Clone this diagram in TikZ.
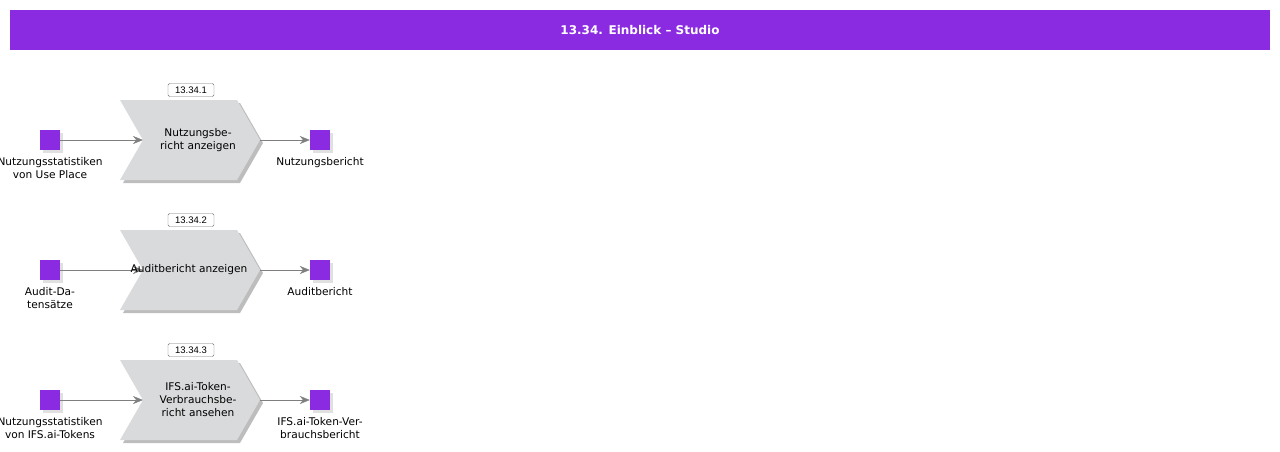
\documentclass[tikz,border=0pt]{standalone}
\usepackage{fontspec}
\setmainfont{DejaVu Sans}
\newfontfamily\tagfont{Liberation Sans}
\usepackage{xcolor}
\usetikzlibrary{positioning}
\usetikzlibrary{shadows}
\usetikzlibrary{arrows.meta}

\definecolor{eventviolet}{HTML}{8A2BE2}
\definecolor{funcgray}{HTML}{D9DADC}
\definecolor{shadegray}{HTML}{BDBDBD}
\definecolor{linegray}{HTML}{7F7F7F}

\begin{document}
\begin{tikzpicture}[x=1pt,y=-1pt,
		every node/.style={inner sep=0pt, font=\fontsize{10.6}{13}\selectfont},
		event/.style={fill=eventviolet, minimum size=20pt,
			drop shadow={shadow xshift=3pt, shadow yshift=-3pt, fill=black!12, opacity=1}},
		evlabel/.style={below=7pt of #1, align=center},
		functext/.style={align=center, text width=100pt},
		chevron/.style={fill=funcgray,
			drop shadow={shadow xshift=3pt, shadow yshift=-3pt, fill=shadegray, opacity=1}},
		tagbox/.style={draw=black!55, rounded corners=1.5pt, fill=white,
			minimum width=46pt, minimum height=13pt, font=\tagfont\fontsize{9.5}{11}\selectfont},
		flow/.style={draw=linegray, -{Stealth[length=10pt,width=8pt]}}]
	\useasboundingbox (0,0) rectangle (1280,451);
	% header
	\node[fill=eventviolet, minimum width=1260pt, minimum height=40pt,
		text=white, font=\bfseries\fontsize{12}{14}\selectfont] (title) at (640,30)
		{13.34. Einblick -- Studio};

	% row 1
	\path[chevron] (120,100) -- (237,100) -- (260,140) -- (237,180) -- (120,180) -- (143,140) -- cycle;
	\coordinate (f1in) at (143,140);
	\coordinate (f1out) at (260,140);
	\node[functext] (f1) at (198,140) {Nutzungsbe-\\richt anzeigen};
	\node[tagbox] (t1) at (191,90) {13.34.1};
	\node[event] (e1) at (50,140) {};
	\node[evlabel=e1] (e1txt) {Nutzungsstatistiken\\von Use Place};
	\node[event] (r1) at (320,140) {};
	\node[evlabel=r1] (r1txt) {Nutzungsbericht};
	\draw[flow] (e1) -- (f1in);
	\draw[flow] (f1out) -- (r1);

	% row 2
	\path[chevron] (120,230) -- (237,230) -- (260,270) -- (237,310) -- (120,310) -- (143,270) -- cycle;
	\coordinate (f2in) at (143,270);
	\coordinate (f2out) at (260,270);
	\node[tagbox] (t2) at (191,220) {13.34.2};
	\node[event] (e2) at (50,270) {};
	\node[evlabel=e2] (e2txt) {Audit-Da-\\tensätze};
	\node[event] (r2) at (320,270) {};
	\node[evlabel=r2] (r2txt) {Auditbericht};
	\draw[flow] (e2) -- (f2in);
	\draw[flow] (f2out) -- (r2);
	\node[functext, text width=140pt] (f2) at (189,270) {Auditbericht anzeigen};

	% row 3
	\path[chevron] (120,360) -- (237,360) -- (260,400) -- (237,440) -- (120,440) -- (143,400) -- cycle;
	\coordinate (f3in) at (143,400);
	\coordinate (f3out) at (260,400);
	\node[functext] (f3) at (198,400) {IFS.ai-Token-\\Verbrauchsbe-\\richt ansehen};
	\node[tagbox] (t3) at (191,350) {13.34.3};
	\node[event] (e3) at (50,400) {};
	\node[evlabel=e3] (e3txt) {Nutzungsstatistiken\\von IFS.ai-Tokens};
	\node[event] (r3) at (320,400) {};
	\node[evlabel=r3] (r3txt) {IFS.ai-Token-Ver-\\brauchsbericht};
	\draw[flow] (e3) -- (f3in);
	\draw[flow] (f3out) -- (r3);
\end{tikzpicture}
\end{document}
